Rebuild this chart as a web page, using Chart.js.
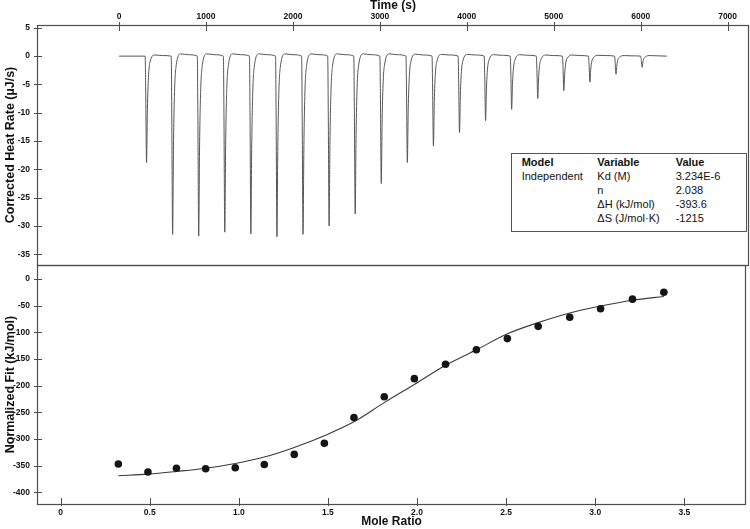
<!DOCTYPE html>
<html>
<head>
<meta charset="utf-8">
<script src="https://cdn.jsdelivr.net/npm/chart.js@4"></script>
<style>
  body { margin: 0; background: #fff; }
  #wrap { position: relative; width: 750px; height: 529px; }
  .panel { position: absolute; left: 0; width: 750px; }
  #topPanel { top: 0; height: 270px; }
  #bottomPanel { top: 260px; height: 269px; }
  #fitTable {
    position: absolute; left: 511px; top: 153px; width: 234px; height: 77px;
    border: 1px solid #555; background: #fff;
    font: 11px 'Liberation Sans', Arial, sans-serif; color: #111;
  }
  #fitTable span { position: absolute; white-space: nowrap; line-height: 12px; }
  #fitTable span.head { font-weight: bold; }
</style>
</head>
<body>
<div id="wrap">
  <div class="panel" id="topPanel"><canvas id="heatChart"></canvas></div>
  <div class="panel" id="bottomPanel"><canvas id="fitChart"></canvas></div>
  <div id="fitTable"></div>
</div>
<script>
// raw thermogram, one row per injection (time s / µJ/s)
const heatTime = [
  0,
  300, 306, 316, 326, 338, 355, 410, 500,
  600, 606, 616, 626, 638, 655, 710, 800,
  900, 906, 916, 926, 938, 955, 1010, 1100,
  1200, 1206, 1216, 1226, 1238, 1255, 1310, 1400,
  1500, 1506, 1516, 1526, 1538, 1555, 1610, 1700,
  1800, 1806, 1816, 1826, 1838, 1855, 1910, 2000,
  2100, 2106, 2116, 2126, 2138, 2155, 2210, 2300,
  2400, 2406, 2416, 2426, 2438, 2455, 2510, 2600,
  2700, 2706, 2716, 2726, 2738, 2755, 2810, 2900,
  3000, 3006, 3016, 3026, 3038, 3055, 3110, 3200,
  3300, 3306, 3316, 3326, 3338, 3355, 3410, 3500,
  3600, 3606, 3616, 3626, 3638, 3655, 3710, 3800,
  3900, 3906, 3916, 3926, 3938, 3955, 4010, 4100,
  4200, 4206, 4216, 4226, 4238, 4255, 4310, 4400,
  4500, 4506, 4516, 4526, 4538, 4555, 4610, 4700,
  4800, 4806, 4816, 4826, 4838, 4855, 4910, 5000,
  5100, 5106, 5116, 5126, 5138, 5155, 5210, 5300,
  5400, 5406, 5416, 5426, 5438, 5455, 5510, 5600,
  5700, 5706, 5716, 5726, 5738, 5755, 5810, 5900,
  6000, 6006, 6016, 6026, 6038, 6055, 6110, 6200,
  6300
];
const heatRate = [
  0,
  0, -5.6, -18.8, -9.4, -3.8, -1.1, 0.2, 0.1,
  0, -9.5, -31.5, -15.8, -6.3, -1.9, 0.4, 0.25,
  0, -9.5, -31.8, -15.9, -6.4, -1.9, 0.4, 0.25,
  0, -9.3, -31.1, -15.6, -6.2, -1.9, 0.4, 0.25,
  0, -9.4, -31.4, -15.7, -6.3, -1.9, 0.4, 0.25,
  0, -9.6, -31.9, -16.0, -6.4, -1.9, 0.4, 0.25,
  0, -9.5, -31.5, -15.8, -6.3, -1.9, 0.4, 0.25,
  0, -9.0, -30.0, -15.0, -6.0, -1.8, 0.4, 0.25,
  0, -8.4, -27.9, -14.0, -5.6, -1.7, 0.4, 0.25,
  0, -6.8, -22.5, -11.3, -4.5, -1.4, 0.4, 0.25,
  0, -5.6, -18.8, -9.4, -3.8, -1.1, 0.35, 0.2,
  0, -4.8, -15.9, -8.0, -3.2, -1.0, 0.3, 0.2,
  0, -4.1, -13.5, -6.8, -2.7, -0.8, 0.3, 0.2,
  0, -3.4, -11.4, -5.7, -2.3, -0.7, 0.25, 0.15,
  0, -2.8, -9.4, -4.7, -1.9, -0.6, 0.25, 0.15,
  0, -2.3, -7.5, -3.8, -1.5, -0.5, 0.2, 0.1,
  0, -1.8, -6.1, -3.1, -1.2, -0.4, 0.2, 0.1,
  0, -1.4, -4.6, -2.3, -0.9, -0.3, 0.15, 0.1,
  0, -1.0, -3.2, -1.6, -0.6, -0.2, 0.1, 0.05,
  0, -0.6, -2.0, -1.0, -0.4, -0.1, 0.1, 0.05,
  0
];

// integrated heats and fitted curve
const moleRatio = [0.324, 0.49, 0.65, 0.814, 0.98, 1.143, 1.311, 1.48, 1.646, 1.816,
                   1.985, 2.16, 2.333, 2.507, 2.68, 2.857, 3.03, 3.209, 3.385];
const heatPoints = [-347, -362, -355, -356, -354, -348, -329, -308, -260, -221,
                    -187, -160, -133, -112, -89, -72, -56, -38, -25];
const fitCurve = [-369, -366, -361, -355, -346, -334, -316, -294, -268, -232,
                  -198, -162, -133, -103, -82, -64, -51, -40, -33];

// tick labels
const timeTicks = [0, 1000, 2000, 3000, 4000, 5000, 6000, 7000];
const heatTicks = [5, 0, -5, -10, -15, -20, -25, -30, -35];
const ratioTicks = [0, 0.5, 1.0, 1.5, 2.0, 2.5, 3.0, 3.5];
const fitTicks = [0, -50, -100, -150, -200, -250, -300, -350, -400];

const tableHead = ['Model', 'Variable', 'Value'];
const modelName = 'Independent';
const paramNames = ['Kd (M)', 'n', 'ΔH (kJ/mol)', 'ΔS (J/mol·K)'];
const paramValues = ['3.234E-6', '2.038', '-393.6', '-1215'];

const FONT = "'Liberation Sans', Arial, Helvetica, sans-serif";
const INK = '#111';
const tickFont = { family: FONT, size: 8.5, weight: 'bold' };

// frame round the plot area plus tick marks that cross it
const frameTicks = {
  id: 'frameTicks',
  afterDraw(chart) {
    const ctx = chart.ctx;
    const a = chart.chartArea;
    ctx.save();
    ctx.strokeStyle = '#4d4d4d';
    ctx.lineWidth = 1.2;
    ctx.strokeRect(Math.round(a.left) + 0.5, Math.round(a.top) + 0.5,
                   Math.round(a.right - a.left) - 1, Math.round(a.bottom - a.top));
    ctx.lineWidth = 1;
    Object.values(chart.scales).forEach(s => {
      s.ticks.forEach(t => {
        const p = Math.round(s.getPixelForValue(t.value)) + 0.5;
        ctx.beginPath();
        if (s.axis === 'y') {
          ctx.moveTo(a.left - 3, p); ctx.lineTo(a.left + 5, p);
        } else if (s.position === 'top') {
          ctx.moveTo(p, a.top - 3); ctx.lineTo(p, a.top + 6);
        } else {
          ctx.moveTo(p, a.bottom - 6); ctx.lineTo(p, a.bottom + 2);
        }
        ctx.stroke();
      });
    });
    ctx.restore();
  }
};

function noPad(s) {
  s.paddingTop = 0; s.paddingBottom = 0; s.paddingLeft = 0; s.paddingRight = 0;
}

function yAxis(min, max, tickList, title) {
  return {
    min: min, max: max,
    afterFit: s => { s.width = 37; noPad(s); },
    afterBuildTicks: s => { s.ticks = tickList.map(v => ({ value: v })); },
    grid: { display: false, drawTicks: false },
    border: { display: false },
    ticks: { padding: 7, color: INK, font: tickFont, callback: v => String(v) },
    title: { display: true, text: title, color: INK, padding: { top: 3, bottom: 0 },
             font: { family: FONT, size: 12.5, weight: 'bold' } }
  };
}

function xAxis(pos, min, max, tickList, title, height, pad, fmt) {
  return {
    type: 'linear', position: pos, min: min, max: max,
    afterFit: s => { s.height = height; noPad(s); },
    afterBuildTicks: s => { s.ticks = tickList.map(v => ({ value: v })); },
    grid: { display: false, drawTicks: false },
    border: { display: false },
    ticks: { padding: pad, maxRotation: 0, autoSkip: false, color: INK, font: tickFont, callback: fmt },
    title: { display: true, text: title, color: INK, padding: { top: 0, bottom: 0 },
             font: { family: FONT, size: 12, weight: 'bold', lineHeight: pos === 'top' ? 1 : 1.2 } }
  };
}

const heatData = heatTime.map((t, i) => ({ x: t, y: heatRate[i] }));
const pointData = moleRatio.map((m, i) => ({ x: m, y: heatPoints[i] }));
const fitData = moleRatio.map((m, i) => ({ x: m, y: fitCurve[i] }));

new Chart(document.getElementById('heatChart'), {
  type: 'line',
  data: {
    datasets: [{
      data: heatData,
      borderColor: '#555',
      borderWidth: 1,
      pointRadius: 0,
      cubicInterpolationMode: 'monotone',
      fill: false
    }]
  },
  options: {
    responsive: true,
    maintainAspectRatio: false,
    animation: false,
    layout: { padding: { top: 0, right: 1, bottom: 5, left: 0 } },
    plugins: { legend: { display: false }, tooltip: { enabled: false } },
    scales: {
      x: xAxis('top', -944, 7246, timeTicks, 'Time (s)', 25, 3, v => String(v)),
      y: yAxis(-36.9, 5.5, heatTicks, 'Corrected Heat Rate (µJ/s)')
    }
  },
  plugins: [frameTicks]
});

new Chart(document.getElementById('fitChart'), {
  type: 'line',
  data: {
    datasets: [{
      data: pointData,
      showLine: false,
      pointRadius: 3.8,
      pointBackgroundColor: '#151515',
      pointBorderWidth: 0
    }, {
      data: fitData,
      borderColor: '#3a3a3a',
      borderWidth: 1.1,
      pointRadius: 0,
      cubicInterpolationMode: 'monotone',
      fill: false
    }]
  },
  options: {
    responsive: true,
    maintainAspectRatio: false,
    animation: false,
    layout: { padding: { top: 5, right: 1, bottom: 0, left: 0 } },
    plugins: { legend: { display: false }, tooltip: { enabled: false } },
    scales: {
      x: xAxis('bottom', -0.1325, 3.846, ratioTicks, 'Mole Ratio', 25, 4,
               v => v === 0 ? '0' : v.toFixed(1)),
      y: yAxis(-422, 26, fitTicks, 'Normalized Fit (kJ/mol)')
    }
  },
  plugins: [frameTicks]
});

// parameter table
const table = document.getElementById('fitTable');
const colX = [9.7, 85.3, 163.7];
const rowY = [2.3, 15.5, 29.5, 43.5, 57.5];
function cell(text, col, row, cls) {
  const s = document.createElement('span');
  s.textContent = text;
  s.style.left = colX[col] + 'px';
  s.style.top = rowY[row] + 'px';
  if (cls) s.className = cls;
  table.appendChild(s);
}
tableHead.forEach((h, c) => cell(h, c, 0, 'head'));
cell(modelName, 0, 1);
paramNames.forEach((n, i) => {
  cell(n, 1, i + 1);
  cell(paramValues[i], 2, i + 1);
});
</script>
</body>
</html>
